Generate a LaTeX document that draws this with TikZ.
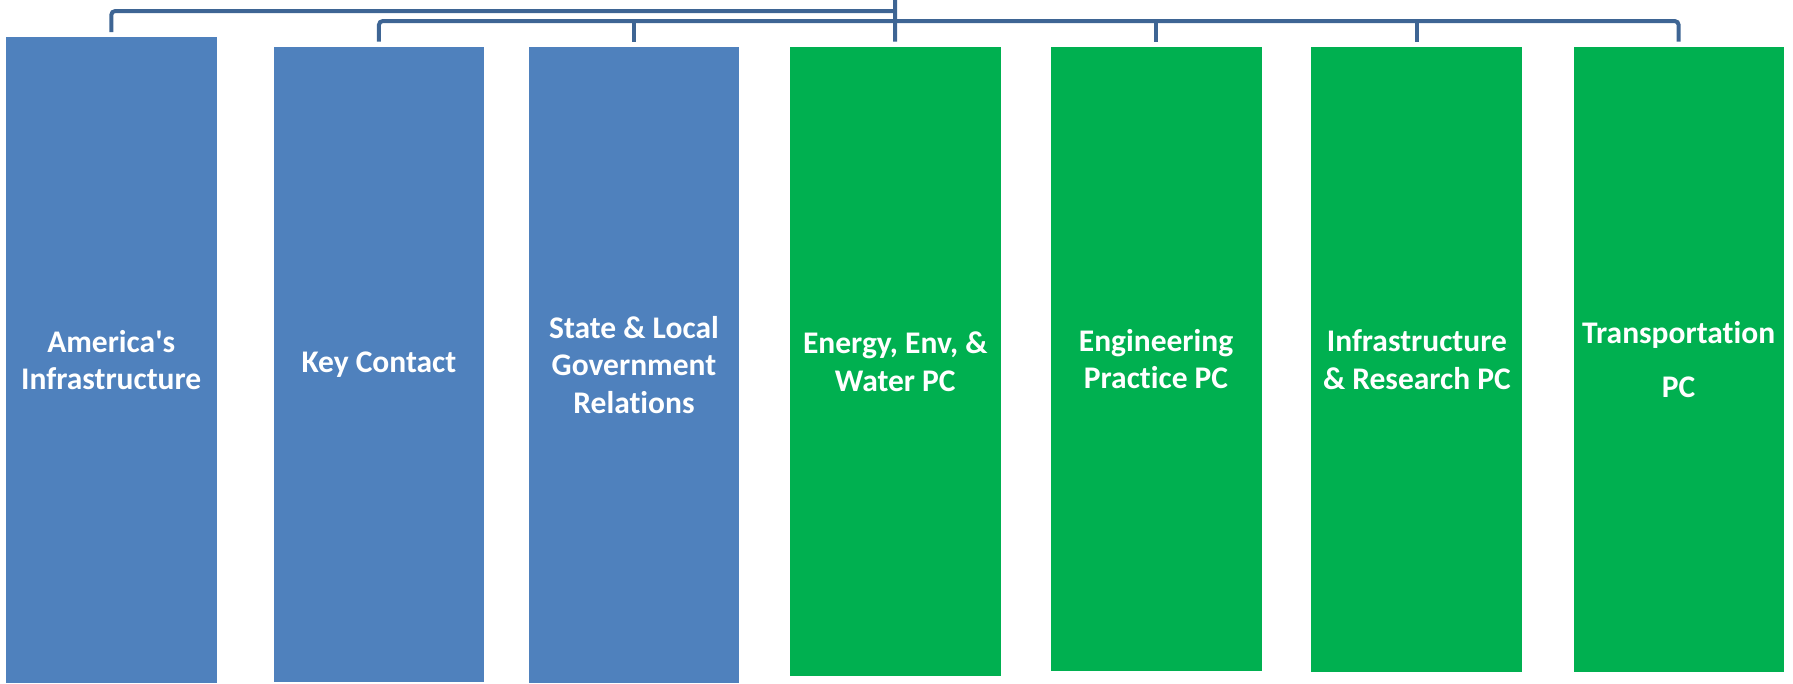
\documentclass[tikz,border=0pt]{standalone}
\usepackage{fontspec}
\setmainfont[Ligatures={NoCommon}]{Carlito}
\definecolor{boxblue}{HTML}{4F81BD}
\definecolor{boxgreen}{HTML}{00B050}
\definecolor{connblue}{HTML}{3E6594}
\tikzset{
  orgbox/.style={draw=none, inner sep=0pt, anchor=north west, align=center,
    text=white, font=\bfseries\fontsize{31.5}{37.5}\selectfont},
  bluebox/.style={orgbox, fill=boxblue},
  greenbox/.style={orgbox, fill=boxgreen},
  conn/.style={draw=connblue, line width=4pt, rounded corners=4pt},
}
\begin{document}
\begin{tikzpicture}[x=1pt,y=-1pt]
\useasboundingbox (0,0) rectangle (1793,683);
\node[bluebox, minimum width=211.3pt, minimum height=646.3pt] (b1) at (5.4,36.7) {America\textquotesingle s\\Infrastructure};
\node[bluebox, minimum width=210.6pt, minimum height=635pt] (b2) at (273.4,46.7) {Key Contact};
\node[bluebox, minimum width=209.5pt, minimum height=636.3pt] (b3) at (529,46.7) {State \& Local\\Government\\Relations};
\node[greenbox, minimum width=211.3pt, minimum height=629.3pt] (b4) at (789.4,46.7) {Energy, Env, \&\\Water PC};
\node[greenbox, minimum width=210.9pt, minimum height=624.3pt] (b5) at (1050.4,46.7) {Engineering\\Practice PC};
\node[greenbox, minimum width=211pt, minimum height=625.3pt] (b6) at (1311.2,46.7) {Infrastructure\\\& Research PC};
\node[greenbox, minimum width=210.3pt, minimum height=625.3pt] (b7) at (1573.3,46.7) {Transportation\\[16.5pt]PC};
\coordinate (root) at (895,0);
\coordinate (bus1) at (895,11);
\coordinate (bus2) at (895,21);
% root trunk down to Energy box
\draw[conn, shorten >=5pt] (root) -- (b4.north);
% upper bus to America's Infrastructure
\draw[conn, shorten <=4.7pt] (b1.north) |- (bus1);
% lower bus from Key Contact to Transportation
\draw[conn, shorten <=5pt, shorten >=5pt] (b2.north) |- (b7.north |- bus2) -- (b7.north);
% ticks
\draw[conn, shorten >=5pt] (b3.north |- bus2) -- (b3.north);
\draw[conn, shorten >=5pt] (b5.north |- bus2) -- (b5.north);
\draw[conn, shorten >=5pt] (b6.north |- bus2) -- (b6.north);
\end{tikzpicture}
\end{document}
